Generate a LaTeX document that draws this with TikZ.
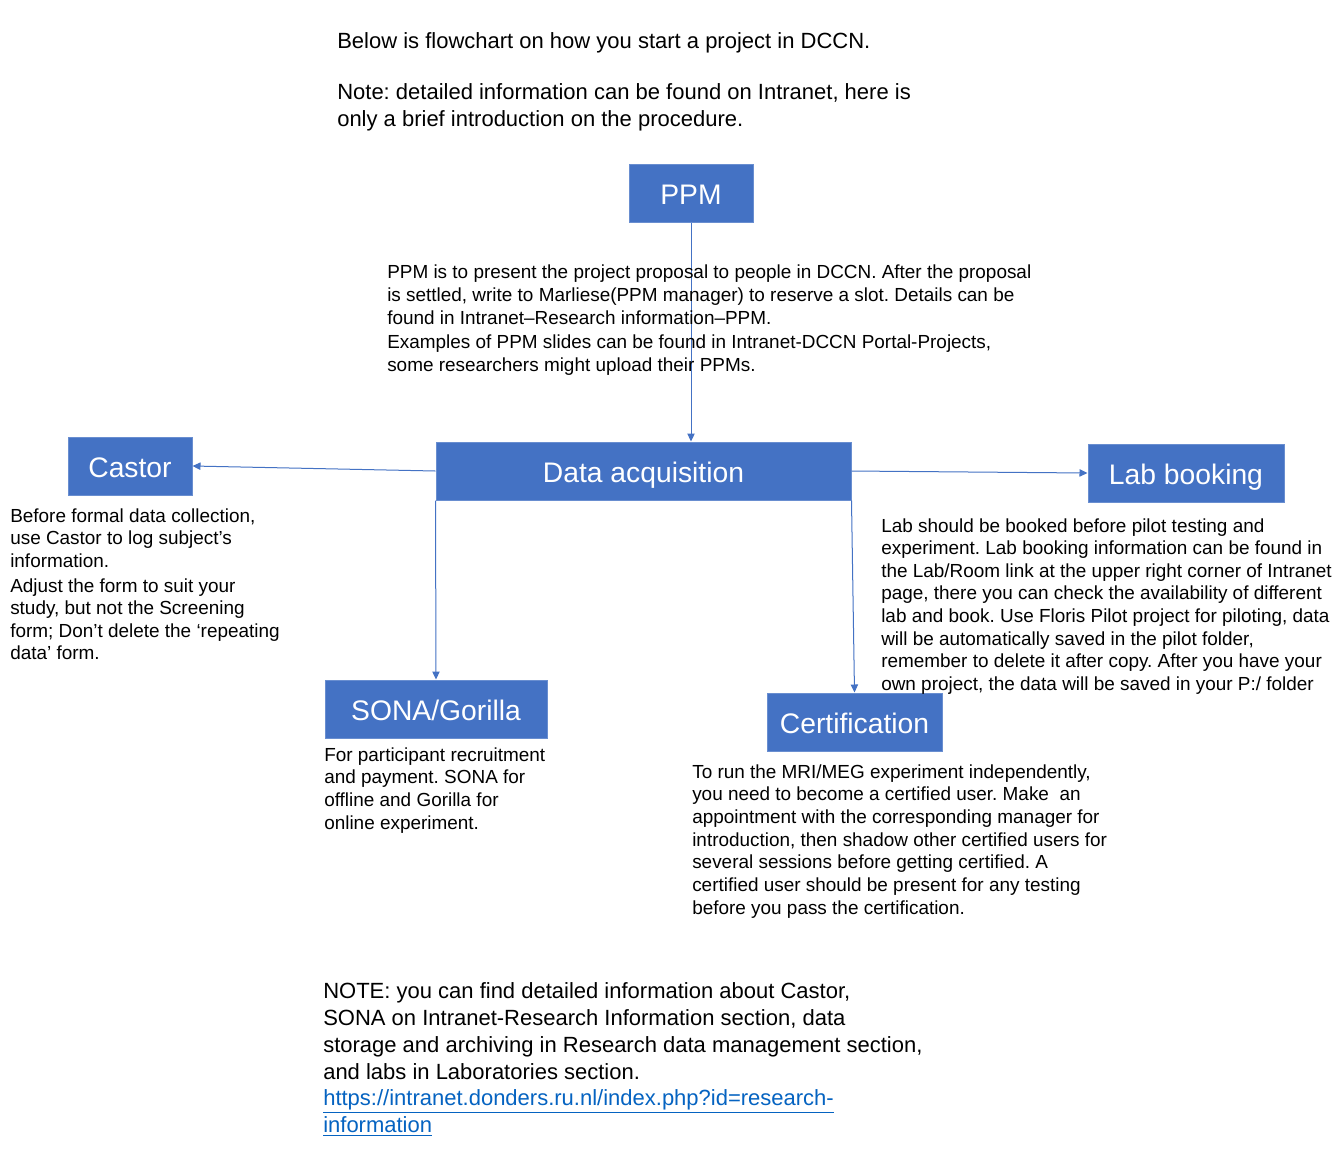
\documentclass[tikz,border=0pt]{standalone}
\usepackage{fontspec}
\setmainfont{Liberation Sans}
\usetikzlibrary{arrows.meta}
\definecolor{boxblau}{HTML}{4472C4}
\definecolor{linkblau}{HTML}{0563C1}
\frenchspacing
\begin{document}
\begin{tikzpicture}[x=0.75pt,y=-0.75pt,
	kasten/.style={fill=boxblau,draw=boxblau!80!white,line width=0.75pt,text=white,inner sep=0pt,minimum height=43.5pt,text height=17.5pt,text depth=0pt,font=\fontsize{21.2}{25}\selectfont},
	pfeil/.style={draw=boxblau,line width=0.75pt,-{Triangle[length=6pt,width=5.5pt]}},
	notiz/.style={anchor=north west,inner sep=0pt,align=left,font=\fontsize{14.2}{17}\selectfont},
	gross/.style={anchor=north west,inner sep=0pt,align=left,font=\fontsize{16.5}{20.2}\selectfont}]
		\path[fill=white] (0,0) rectangle (1336,1158);
		% Kaesten
		\foreach \x/\y/\b/\n/\t in {691/193/93pt/ppm/PPM,643.5/471/311.25pt/data/Data acquisition,130/466/93pt/castor/Castor,1186/473/147pt/lab/Lab booking,436/709/166.5pt/sona/{SONA/Gorilla},854.5/722/131.25pt/cert/Certification}
		\node[kasten,minimum width=\b] (\n) at (\x,\y) {\t};
		% Pfeile
		\draw[pfeil] (ppm.south) -- (ppm.south |- data.north);
		\draw[pfeil] (data.west) -- (castor.east);
		\draw[pfeil] (data.east) -- (lab.west);
		\draw[pfeil] (data.south west) -- (sona.north);
		\draw[pfeil] (data.south east) -- (cert.north);
		% Texte oben
		\node[gross] (kopf) at (337,32) {Below is flowchart on how you start a project in DCCN.\\[18pt]Note: detailed information can be found on Intranet, here is\\only a brief introduction on the procedure.};
		\node[notiz] (ppmtext) at (387,265) {PPM is to present the project proposal to people in DCCN. After the proposal\\is settled, write to Marliese(PPM manager) to reserve a slot. Details can be\\found in Intranet–Research information–PPM.\\[1.5pt]Examples of PPM slides can be found in Intranet-DCCN Portal-Projects,\\some researchers might upload their PPMs.};
		% Texte unter den Kaesten
		\node[notiz] (castortext) at (10,508) {Before formal data collection,\\use Castor to log subject’s\\information.\\[1.5pt]Adjust the form to suit your\\study, but not the Screening\\form; Don’t delete the ‘repeating\\data’ form.};
		\node[notiz] (labtext) at (881,518) {Lab should be booked before pilot testing and\\experiment. Lab booking information can be found in\\the Lab/Room link at the upper right corner of Intranet\\page, there you can check the availability of different\\lab and book. Use Floris Pilot project for piloting, data\\will be automatically saved in the pilot folder,\\remember to delete it after copy. After you have your\\own project, the data will be saved in your P:/ folder};
		\node[notiz] (sonatext) at (324,747) {For participant recruitment\\and payment. SONA for\\offline and Gorilla for\\online experiment.};
		\node[notiz] (certtext) at (692,764) {To run the MRI/MEG experiment independently,\\you need to become a certified user. Make\ \ an\\appointment with the corresponding manager for\\introduction, then shadow other certified users for\\several sessions before getting certified. A\\certified user should be present for any testing\\before you pass the certification.};
		% Hinweis unten
		\node[gross] (hinweis) at (323,982) {NOTE: you can find detailed information about Castor,\\SONA on Intranet-Research Information section, data\\storage and archiving in Research data management section,\\and labs in Laboratories section.\\\textcolor{linkblau}{\underline{https://intranet.donders.ru.nl/index.php?id=research-}}\\\textcolor{linkblau}{\underline{information}}};
	\end{tikzpicture}
\end{document}
